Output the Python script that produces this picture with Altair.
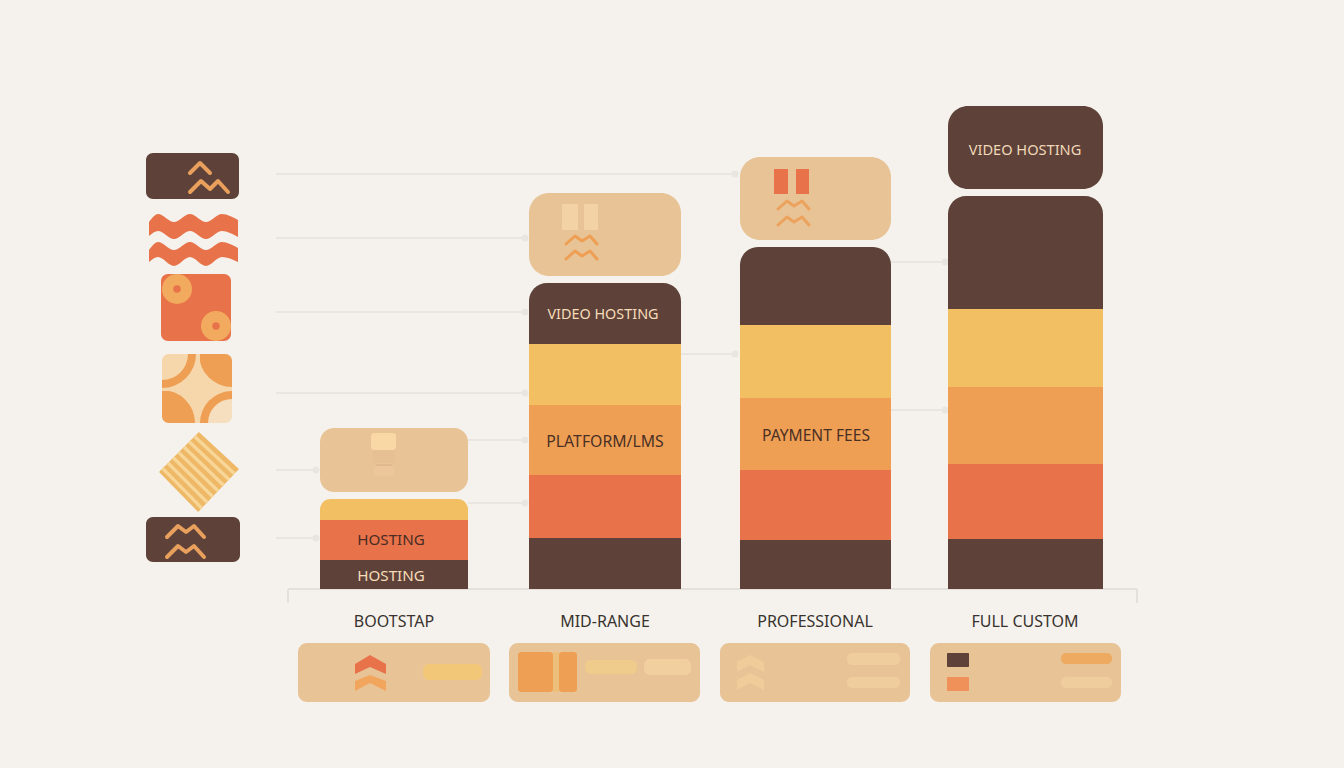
import altair as alt
import pandas as pd

# ---------- palette ----------
BG = "#f5f2ed"; DARK = "#5e4239"; ORANGE = "#e8734a"; AMBER = "#ee9f54"
YELLOW = "#f2c063"; TAN = "#e8c396"; LINE = "#e9e6e2"; INK = "#39322e"; CREAM = "#f6dcb8"

# ---------- chart values ----------
tiers = ["BOOTSTAP", "MID-RANGE", "PROFESSIONAL", "FULL CUSTOM"]
tier_label_x = [394, 605, 815, 1025]
bar_left = [320, 529, 740, 948]
bar_right = [468, 681, 891, 1103]

base_dark = [29, 51, 49, 50]
orange_part = [40, 63, 70, 75]
amber_part = [0, 70, 72, 77]
yellow_part = [21, 61, 73, 78]
top_dark = [0, 61, 78, 113]
segment_parts = [(base_dark, DARK), (orange_part, ORANGE), (amber_part, AMBER),
                 (yellow_part, YELLOW), (top_dark, DARK)]
cap_gap = [7, 7, 7, 7]
cap_height = [64, 83, 83, 83]
cap_color = [TAN, TAN, TAN, DARK]

bar_texts = ["HOSTING", "HOSTING", "VIDEO HOSTING", "PLATFORM/LMS", "PAYMENT FEES", "VIDEO HOSTING"]
bar_text_x = [391, 391, 603, 605, 816, 1025]
bar_text_y = [540, 576, 315, 442, 436, 151]
bar_text_size = [15.2, 15.2, 14.4, 15.8, 15.6, 14.6]
bar_text_color = ["#4a2c24", CREAM, CREAM, "#4a3024", "#4a3024", "#f0d8b8"]

leaders = [(276, 735, 174), (276, 525, 238), (276, 525, 312),
           (276, 525, 393), (276, 316, 470), (276, 316, 538),
           (468, 525, 440), (468, 525, 503), (681, 735, 354),
           (891, 945, 262), (891, 945, 410)]

cards_left = [298, 509, 720, 930]
cards_right = [490, 700, 910, 1121]

# rounded boxes: left, right, top, bottom, radius, colour
boxes = [
    (146, 239, 153, 199, 7, DARK), (146, 240, 517, 562, 7, DARK),
    (161, 231, 274, 341, 7, ORANGE), (162, 232, 354, 423, 0, "#f6d7ab"),
    (371, 396, 433, 450, 3, "#f9d8a6"), (373, 395, 450, 463, 0, "#e6c093"),
    (376, 392, 464, 466, 1, "#e0ba8e"), (374, 394, 466, 476, 2, "#ebc799"),
    (562, 578, 204, 230, 1, "#f3d3a6"), (584, 598, 204, 230, 1, "#f3d3a6"),
    (774, 788, 169, 194, 0, ORANGE), (796, 809, 169, 194, 0, ORANGE),
    (423, 482, 664, 680, 6, "#f2c878"),
    (518, 553, 652, 692, 3, AMBER), (553, 559, 652, 692, 0, "#ecc07a"), (559, 577, 652, 692, 3, AMBER),
    (585, 637, 660, 674, 6, "#f0cc8c"), (644, 691, 659, 675, 6, "#f1cf9e"),
    (847, 900, 653, 665, 5, "#f0cd9c"), (847, 900, 677, 688, 5, "#f0cd9c"),
    (947, 969, 653, 667, 1, DARK), (947, 969, 677, 691, 1, "#f0915a"),
    (1061, 1112, 653, 664, 5, "#efaa62"), (1061, 1112, 677, 688, 5, "#f0cd9c"),
]

# zigzag strokes: colour, width, x values, y values
zigzags = [
    ("#e9a05c", 4, [190, 200, 210], [173, 163, 173]),
    ("#e9a05c", 4, [190, 201, 210, 218, 228], [192, 181, 189, 181, 192]),
    ("#e9a05c", 4, [167, 178, 186, 194, 204], [537, 526, 532, 526, 537]),
    ("#e9a05c", 4, [167, 178, 186, 194, 204], [557, 546, 552, 546, 557]),
    (AMBER, 3, [566, 575, 582, 590, 597], [244, 236, 241, 236, 244]),
    (AMBER, 3, [566, 575, 582, 590, 597], [259, 251, 256, 251, 259]),
    ("#eca25c", 3, [778, 787, 794, 802, 809], [209, 201, 206, 201, 209]),
    ("#eca25c", 3, [778, 787, 794, 802, 809], [225, 217, 222, 217, 225]),
]
# solid chevrons on the cards: colour, x, upper edge, lower edge
chevrons = [
    (ORANGE, [355, 370, 386], [664, 655, 664], [674, 667, 674]),
    ("#f2a55c", [355, 370, 386], [681, 675, 681], [691, 683, 691]),
    ("#f0cc9a", [737, 750, 764], [662, 655, 662], [672, 665, 672]),
    ("#f0cc9a", [737, 750, 764], [680, 673, 680], [690, 683, 690]),
]
# wavy icon: upper and lower edges of each band
wave_x = [149, 158, 174, 190, 206, 222, 238]
wave1_top = [222, 214, 222, 214, 222, 214, 220]
wave1_low = [236, 231, 239, 231, 239, 231, 237]
wave2_top = [250, 242, 250, 242, 250, 242, 248]
wave2_low = [262, 257, 266, 257, 266, 257, 262]

# circles of the orange icon: x, y, diameter, colour
circles = [(177, 289, 30, "#f2aa5e"), (177, 289, 7.5, ORANGE), (216, 326, 30, "#f2aa5e"), (216, 326, 7.5, ORANGE)]

# quarter arcs of the amber icon: cx, cy, inner, outer, theta, theta2, colour
PI = 3.14159265
arcs = [
    (162, 354, 0, 34, PI / 2, PI, AMBER), (162, 354, 0, 26, PI / 2, PI, "#f6d7ab"),
    (232, 354, 0, 33, PI, 1.5 * PI, AMBER),
    (162, 423, 0, 33, 0, PI / 2, AMBER),
    (232, 423, 0, 32, 1.5 * PI, 2 * PI, AMBER), (232, 423, 0, 24, 1.5 * PI, 2 * PI, "#f6dfbe"),
]

# diamond icon
diamond_left = (160, 471); diamond_top = (198, 433)
diamond_bottom = (199, 511); diamond_right = (238, 470)
stripe_share = [0.07, 0.21, 0.35, 0.49, 0.63, 0.77, 0.91]

axis_line_left, axis_line_right, axis_y, axis_tick_end = 288, 1137, 589, 603

# ---------- scales: y counts upward from the bar baseline ----------
W, H = 1328, 748
X = alt.Scale(domain=[8, 8 + W], nice=False, zero=False)
Y = alt.Scale(domain=[589 - (8 + H), 581], nice=False, zero=False)


def up(p):
    return axis_y - p


def rect_layer(rows, **mark):
    d = pd.DataFrame(rows, columns=["x", "x2", "y", "y2", "c"])
    return alt.Chart(d).mark_rect(**mark).encode(
        x=alt.X("x:Q", scale=X, axis=None), x2="x2:Q",
        y=alt.Y("y:Q", scale=Y, axis=None), y2="y2:Q",
        fill=alt.Fill("c:N", scale=None))


def line_layer(x, y, color, width, interpolate="linear", cap="round", join="round"):
    d = pd.DataFrame({"x": x, "y": [up(v) for v in y], "i": range(len(x))})
    return alt.Chart(d).mark_line(color=color, strokeWidth=width, interpolate=interpolate,
                                  strokeCap=cap, strokeJoin=join).encode(
        x=alt.X("x:Q", scale=X, axis=None), y=alt.Y("y:Q", scale=Y, axis=None), order="i:Q")


def area_layer(x, top, low, color, interpolate="linear"):
    d = pd.DataFrame({"x": x, "y": [up(v) for v in top], "y2": [up(v) for v in low]})
    return alt.Chart(d).mark_area(color=color, interpolate=interpolate, opacity=1).encode(
        x=alt.X("x:Q", scale=X, axis=None), y=alt.Y("y:Q", scale=Y, axis=None), y2="y2:Q")


def rule_layer(rows, color, width):
    d = pd.DataFrame(rows, columns=["x", "x2", "y", "y2"])
    return alt.Chart(d).mark_rule(color=color, strokeWidth=width).encode(
        x=alt.X("x:Q", scale=X, axis=None), x2="x2:Q",
        y=alt.Y("y:Q", scale=Y, axis=None), y2="y2:Q")


def text_layer(d):
    return alt.Chart(d).mark_text(font="Noto Sans", align="center", baseline="middle").encode(
        x=alt.X("x:Q", scale=X, axis=None), y=alt.Y("y:Q", scale=Y, axis=None),
        text="t:N", color=alt.Color("c:N", scale=None), size=alt.Size("s:Q", scale=None))


layers = []

# axis baseline with end ticks
layers.append(rule_layer([(axis_line_left, axis_line_right, 0, 0),
                          (axis_line_left, axis_line_left, 0, up(axis_tick_end)),
                          (axis_line_right, axis_line_right, 0, up(axis_tick_end))], "#e4e1dc", 2))

# leader lines and their dots
layers.append(rule_layer([(a, b, up(p), up(p)) for a, b, p in leaders], LINE, 2))
dots = pd.DataFrame([{"x": b, "y": up(p)} for a, b, p in leaders])
layers.append(alt.Chart(dots).mark_circle(color=LINE, opacity=1, size=49).encode(
    x=alt.X("x:Q", scale=X, axis=None), y=alt.Y("y:Q", scale=Y, axis=None)))

# stacked bars: plain segments and the rounded top of each stack
plain, tops = [], {}
for i in range(4):
    level = 0
    parts = [(p[i], c) for p, c in segment_parts if p[i] > 0]
    for n, (h, c) in enumerate(parts):
        row = (bar_left[i], bar_right[i], level, level + h, c)
        if n == len(parts) - 1:
            tops.setdefault(12 if i == 0 else 18, []).append(row)
        else:
            plain.append(row)
        level += h
    # detached cap above the stack
    cap = (bar_left[i], bar_right[i], level + cap_gap[i], level + cap_gap[i] + cap_height[i], cap_color[i])
    tops.setdefault("cap%d" % (14 if i == 0 else 20), []).append(cap)
layers.append(rect_layer(plain))
for r, rows in tops.items():
    if isinstance(r, str):
        layers.append(rect_layer(rows, cornerRadius=int(r[3:])))
    else:
        layers.append(rect_layer(rows, cornerRadiusTopLeft=r, cornerRadiusTopRight=r))

# cards under the tiers
layers.append(rect_layer([(a, b, up(643), up(702), TAN) for a, b in zip(cards_left, cards_right)], cornerRadius=9))

# small rounded boxes, grouped by radius
by_radius = {}
for a, b, t, u, r, c in boxes:
    by_radius.setdefault(r, []).append((a, b, up(t), up(u), c))
for r, rows in by_radius.items():
    layers.append(rect_layer(rows, cornerRadius=r))

# quarter arcs
arc_df = pd.DataFrame([{"x": a[0], "y": up(a[1]), "r": a[2], "r2": a[3], "t": a[4], "t2": a[5],
                        "c": a[6], "k": i} for i, a in enumerate(arcs)])
for _, row in arc_df.iterrows():
    one = arc_df[arc_df.k == row.k]
    layers.append(alt.Chart(one).mark_arc(theta=float(row.t), theta2=float(row.t2),
                                          radius=float(row.r2), radius2=float(row.r), fill=row.c).encode(
        x=alt.X("x:Q", scale=X, axis=None), y=alt.Y("y:Q", scale=Y, axis=None)))
# the gaps across the amber icon, and a background ring that rounds its corners
layers.append(rect_layer([(196, 200, up(354), up(423), "#f6d7ab"), (162, 232, up(388), up(391), "#f6d7ab")]))
ring = pd.DataFrame([{"x": 160.5, "x2": 233.5, "y": up(352.5), "y2": up(424.5)}])
layers.append(alt.Chart(ring).mark_rect(fill=None, stroke=BG, strokeWidth=3, cornerRadius=8).encode(
    x=alt.X("x:Q", scale=X, axis=None), x2="x2:Q", y=alt.Y("y:Q", scale=Y, axis=None), y2="y2:Q"))


def across(u):
    return (diamond_left[0] + u * (diamond_top[0] - diamond_left[0]),
            diamond_bottom[0] + u * (diamond_right[0] - diamond_bottom[0]),
            up(diamond_left[1] + u * (diamond_top[1] - diamond_left[1])),
            up(diamond_bottom[1] + u * (diamond_right[1] - diamond_bottom[1])))


# diamond icon: base and stripes
layers.append(rule_layer([across(s / 28) for s in range(29)], "#eeb866", 2.6))
layers.append(rule_layer([across(u) for u in stripe_share], "#f8d698", 3.4))

# waves
layers.append(area_layer(wave_x, wave1_top, wave1_low, ORANGE, "monotone"))
layers.append(area_layer(wave_x, wave2_top, wave2_low, ORANGE, "monotone"))

# circles (Vega's symbol size is the square of the diameter)
circ = pd.DataFrame([{"x": a, "y": up(b), "s": d ** 2, "c": c, "k": i}
                     for i, (a, b, d, c) in enumerate(circles)])
layers.append(alt.Chart(circ).mark_circle(opacity=1).encode(
    x=alt.X("x:Q", scale=X, axis=None), y=alt.Y("y:Q", scale=Y, axis=None),
    size=alt.Size("s:Q", scale=None), fill=alt.Fill("c:N", scale=None), order="k:Q"))

# zigzags and chevrons
for c, w, xs, ys in zigzags:
    layers.append(line_layer(xs, ys, c, w))
for c, xs, tp, lw in chevrons:
    layers.append(area_layer(xs, tp, lw, c))

# texts
layers.append(text_layer(pd.DataFrame({"x": bar_text_x, "y": [up(v) for v in bar_text_y],
                                       "t": bar_texts, "c": bar_text_color, "s": bar_text_size})))
layers.append(text_layer(pd.DataFrame({"x": tier_label_x, "y": [up(622)] * 4, "t": tiers,
                                       "c": [INK] * 4, "s": [16] * 4})))

chart = alt.layer(*layers).properties(
    width=W, height=H, padding=0, background=BG,
    autosize=alt.AutoSizeParams(type="none"),
).configure_view(stroke=None)

chart.save("out.html", embed_options={"renderer": "svg", "actions": False,
                                      "defaultStyle": "html,body{background:#f5f2ed}"})
